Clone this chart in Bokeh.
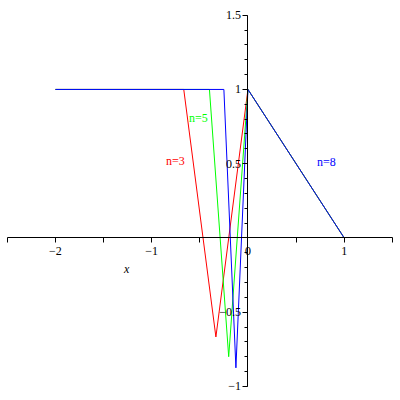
from bokeh.plotting import figure
from bokeh.models import FixedTicker, Range1d, Label
from bokeh.embed import file_html
from bokeh.resources import INLINE

# data
red_x = [-2, -0.667, -0.333, 0, 1]
red_y = [1, 1, -0.667, 1, 0]
green_x = [-2, -0.4, -0.2, 0, 1]
green_y = [1, 1, -0.8, 1, 0]
blue_x = [-2, -0.25, -0.125, 0, 1]
blue_y = [1, 1, -0.875, 1, 0]

x_ticks = [-2, -1, 0, 1]
x_minor = [-2.5, -1.5, -0.5, 0.5, 1.5]
y_ticks = [-1, -0.5, 0.5, 1, 1.5]
y_minor = [round(-1 + 0.1 * i, 1) for i in range(26)]

labels = [("n=3", -0.753, 0.515, "#FF0000"),
          ("n=5", -0.514, 0.805, "#00FF00"),
          ("n=8", 0.815, 0.508, "#0000FF")]

FONT = "Liberation Serif"

p = figure(width=400, height=400, output_backend="svg", toolbar_location=None,
           x_range=Range1d(-2.571, 1.585), y_range=Range1d(-1.095, 1.599),
           min_border=0)
p.outline_line_color = None
p.background_fill_color = "white"
p.grid.visible = False

p.line(red_x, red_y, line_color="#FF0000", line_width=1)
p.line(green_x, green_y, line_color="#00FF00", line_width=1)
p.line(blue_x, blue_y, line_color="#0000FF", line_width=1)

for ax in p.xaxis:
    ax.fixed_location = 0
    ax.ticker = FixedTicker(ticks=x_ticks, minor_ticks=x_minor)
    ax.major_tick_in = 0
    ax.major_tick_out = 5
    ax.minor_tick_in = 0
    ax.minor_tick_out = 5
    ax.major_label_text_font = FONT
    ax.major_label_text_font_size = "12px"
    ax.major_label_text_color = "black"
    ax.axis_line_color = "black"
    ax.major_label_standoff = 4
    ax.bounds = (-2.5, 1.5)

for ax in p.yaxis:
    ax.fixed_location = 0
    ax.ticker = FixedTicker(ticks=y_ticks, minor_ticks=y_minor)
    ax.major_tick_in = 0
    ax.major_tick_out = 5
    ax.minor_tick_in = 0
    ax.minor_tick_out = 3
    ax.major_label_text_font = FONT
    ax.major_label_text_font_size = "12px"
    ax.major_label_text_color = "black"
    ax.axis_line_color = "black"
    ax.major_label_standoff = 2
    ax.bounds = (-1, 1.5)

for txt, lx, ly, col in labels:
    p.add_layout(Label(x=lx, y=ly, text=txt, text_color=col, text_font=FONT,
                       text_font_size="12px", text_align="center",
                       text_baseline="middle"))

p.add_layout(Label(x=-1.26, y=-0.21, text="x", text_color="black", text_font=FONT,
                   text_font_style="italic", text_font_size="12px",
                   text_align="center", text_baseline="middle"))

open("out.html", "w").write(file_html(p, INLINE))
